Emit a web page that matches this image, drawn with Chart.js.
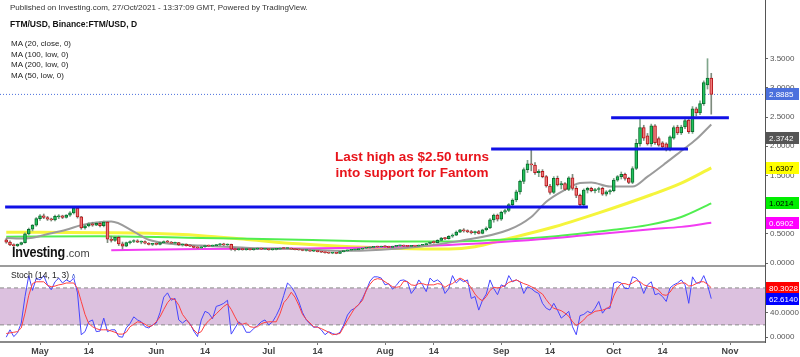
<!DOCTYPE html>
<html>
<head>
<meta charset="utf-8">
<title>FTM/USD</title>
<script src="https://cdn.jsdelivr.net/npm/chart.js@4.4.1/dist/chart.umd.min.js"></script>
<style>
  html, body { margin:0; padding:0; background:#ffffff; }
  body { width:800px; height:357px; overflow:hidden; position:relative; font-family:"Liberation Sans", Arial, sans-serif; }
  canvas { position:absolute; left:0; }
  #c1 { top:0; }
  #c2 { top:266px; }
  .txt { position:absolute; white-space:nowrap; line-height:1; }
</style>
</head>
<body>
<canvas id="c1" width="800" height="266"></canvas>
<canvas id="c2" width="800" height="91"></canvas>
<div style="position:absolute;left:0;top:265px;width:765px;height:2px;background:#9c9c9c;"></div>
<div class="txt" style="left:10px;top:4px;font-size:8px;color:#333;">Published on Investing.com, 27/Oct/2021 - 13:37:09 GMT, Powered by TradingView.</div>
<div class="txt" style="left:10px;top:20px;font-size:8.5px;font-weight:bold;color:#111;">FTM/USD, Binance:FTM/USD, D</div>
<div class="txt" style="left:11px;top:40px;font-size:8px;color:#222;">MA (20, close, 0)</div>
<div class="txt" style="left:11px;top:51px;font-size:8px;color:#222;">MA (100, low, 0)</div>
<div class="txt" style="left:11px;top:61px;font-size:8px;color:#222;">MA (200, low, 0)</div>
<div class="txt" style="left:11px;top:72px;font-size:8px;color:#222;">MA (50, low, 0)</div>
<div class="txt" style="left:300px;top:149px;width:224px;text-align:center;font-size:13.5px;font-weight:bold;color:#e8141b;line-height:16px;">Last high as $2.50 turns<br>into support for Fantom</div>
<div class="txt" style="left:12px;top:244px;"><span style="display:inline-block;font-size:14px;font-weight:bold;color:#111;transform:scaleX(0.9);transform-origin:left;letter-spacing:-0.3px;">Investing</span><span style="font-size:11px;color:#444;margin-left:-5px;">.com</span></div>
<div class="txt" style="left:11px;top:271px;font-size:8.5px;color:#222;">Stoch (14, 1, 3) <span style="color:#3a55d0;font-size:7px;">&#8743;</span></div>

<script>
// ---------- DATA ----------
// daily candles, 22 Apr 2021 (index 0) .. 27 Oct 2021 (index 188)
const open = [
0.40,0.36,0.31,0.30,0.32,0.35,0.50,0.58,0.65,0.76,
0.81,0.78,0.75,0.74,0.79,0.81,0.78,0.82,0.86,0.94,
0.79,0.60,0.64,0.67,0.65,0.68,0.64,0.70,0.41,0.39,
0.44,0.33,0.29,0.35,0.37,0.38,0.36,0.37,0.34,0.32,
0.33,0.32,0.35,0.37,0.36,0.34,0.35,0.31,0.32,0.30,
0.29,0.27,0.26,0.28,0.30,0.29,0.30,0.31,0.33,0.31,
0.32,0.24,0.23,0.25,0.23,0.24,0.23,0.24,0.25,0.24,
0.245,0.23,0.235,0.24,0.255,0.25,0.255,0.24,0.23,0.225,
0.215,0.22,0.205,0.21,0.195,0.185,0.18,0.17,0.175,0.165,
0.195,0.21,0.22,0.225,0.23,0.24,0.255,0.26,0.27,0.28,
0.275,0.285,0.28,0.27,0.285,0.295,0.30,0.29,0.285,0.295,
0.29,0.305,0.315,0.335,0.36,0.35,0.39,0.43,0.42,0.46,
0.48,0.53,0.57,0.55,0.54,0.52,0.54,0.51,0.57,0.60,
0.74,0.82,0.75,0.87,0.90,1.00,1.08,1.22,1.40,1.60,
1.70,1.68,1.55,1.57,1.48,1.32,1.21,1.45,1.34,1.36,
1.26,1.46,1.28,1.16,1.00,1.25,1.28,1.24,1.26,1.28,
1.18,1.22,1.24,1.42,1.48,1.52,1.45,1.38,1.62,2.04,
2.32,2.18,2.04,2.35,2.13,2.06,2.04,1.94,2.14,2.33,
2.23,2.33,2.45,2.25,2.64,2.57,2.73,3.05,3.17];
const high = [
0.42,0.38,0.33,0.33,0.36,0.52,0.60,0.66,0.78,0.83,
0.84,0.80,0.77,0.82,0.83,0.82,0.83,0.88,0.96,0.95,
0.80,0.66,0.69,0.70,0.70,0.70,0.72,0.71,0.46,0.46,
0.46,0.36,0.36,0.38,0.40,0.40,0.38,0.38,0.35,0.34,
0.35,0.36,0.38,0.39,0.37,0.36,0.355,0.33,0.33,0.32,
0.30,0.28,0.29,0.31,0.31,0.31,0.32,0.34,0.34,0.33,
0.325,0.26,0.26,0.26,0.25,0.25,0.25,0.26,0.26,0.25,
0.25,0.24,0.245,0.26,0.27,0.26,0.26,0.245,0.24,0.23,
0.225,0.225,0.215,0.215,0.20,0.19,0.19,0.18,0.18,0.20,
0.215,0.225,0.23,0.235,0.245,0.26,0.265,0.275,0.285,0.29,
0.29,0.30,0.29,0.29,0.30,0.31,0.31,0.30,0.30,0.30,
0.31,0.32,0.34,0.37,0.38,0.40,0.44,0.44,0.47,0.50,
0.55,0.58,0.59,0.57,0.56,0.55,0.56,0.58,0.62,0.76,
0.84,0.84,0.89,0.92,1.02,1.10,1.25,1.42,1.63,1.76,
1.95,1.72,1.60,1.60,1.50,1.35,1.48,1.49,1.40,1.38,
1.48,1.52,1.32,1.18,1.27,1.30,1.30,1.28,1.30,1.30,
1.24,1.26,1.45,1.50,1.56,1.54,1.47,1.65,2.12,2.49,
2.36,2.22,2.38,2.37,2.16,2.08,2.06,2.18,2.35,2.36,
2.36,2.48,2.47,2.68,2.67,2.78,3.12,3.50,3.25];
const low = [
0.34,0.30,0.28,0.28,0.31,0.34,0.48,0.55,0.63,0.73,
0.76,0.73,0.72,0.72,0.76,0.76,0.77,0.80,0.84,0.77,
0.58,0.58,0.62,0.63,0.64,0.62,0.62,0.35,0.36,0.37,
0.30,0.24,0.28,0.33,0.35,0.35,0.33,0.33,0.31,0.30,
0.31,0.31,0.34,0.35,0.33,0.32,0.30,0.29,0.29,0.28,
0.26,0.25,0.25,0.27,0.28,0.28,0.29,0.30,0.30,0.30,
0.22,0.21,0.22,0.22,0.22,0.22,0.22,0.23,0.23,0.23,
0.22,0.22,0.225,0.235,0.245,0.24,0.235,0.225,0.22,0.21,
0.205,0.20,0.195,0.19,0.18,0.17,0.165,0.16,0.16,0.16,
0.19,0.20,0.21,0.215,0.225,0.235,0.245,0.25,0.26,0.265,
0.27,0.27,0.265,0.265,0.275,0.28,0.28,0.275,0.28,0.28,
0.285,0.30,0.31,0.33,0.34,0.345,0.38,0.40,0.41,0.44,
0.47,0.52,0.53,0.52,0.50,0.49,0.50,0.50,0.55,0.59,
0.70,0.72,0.73,0.84,0.88,0.98,1.05,1.18,1.36,1.55,
1.58,1.52,1.48,1.46,1.30,1.18,1.19,1.32,1.27,1.24,
1.24,1.25,1.12,0.96,0.98,1.20,1.22,1.20,1.21,1.16,
1.15,1.18,1.22,1.40,1.44,1.42,1.36,1.36,1.60,2.00,
2.10,2.02,2.00,2.03,2.00,1.97,1.92,1.92,2.12,2.20,
2.20,2.30,2.22,2.22,2.52,2.54,2.70,2.98,2.55];
const close = [
0.36,0.31,0.30,0.32,0.35,0.50,0.58,0.65,0.76,0.81,
0.78,0.75,0.74,0.80,0.81,0.78,0.82,0.86,0.94,0.79,
0.60,0.64,0.67,0.65,0.68,0.64,0.70,0.41,0.39,0.44,
0.33,0.29,0.35,0.37,0.38,0.36,0.37,0.34,0.32,0.33,
0.32,0.35,0.37,0.36,0.34,0.35,0.31,0.32,0.30,0.29,
0.27,0.26,0.28,0.30,0.29,0.30,0.31,0.33,0.31,0.32,
0.24,0.23,0.25,0.23,0.24,0.23,0.24,0.25,0.24,0.245,
0.23,0.235,0.24,0.255,0.25,0.255,0.24,0.23,0.225,0.215,
0.22,0.205,0.21,0.195,0.185,0.18,0.17,0.175,0.165,0.195,
0.21,0.22,0.225,0.23,0.24,0.255,0.26,0.27,0.28,0.275,
0.285,0.28,0.27,0.285,0.295,0.30,0.29,0.285,0.295,0.29,
0.305,0.315,0.335,0.36,0.35,0.39,0.43,0.42,0.46,0.48,
0.53,0.57,0.55,0.54,0.52,0.54,0.51,0.57,0.60,0.74,
0.82,0.75,0.87,0.90,1.00,1.08,1.22,1.40,1.60,1.70,
1.68,1.55,1.57,1.48,1.32,1.21,1.45,1.34,1.36,1.26,
1.46,1.28,1.16,1.00,1.25,1.28,1.24,1.26,1.27,1.18,
1.22,1.24,1.42,1.48,1.52,1.45,1.38,1.62,2.05,2.32,
2.14,2.04,2.35,2.06,2.02,1.99,1.94,2.16,2.32,2.23,
2.33,2.44,2.25,2.64,2.57,2.73,3.09,3.17,2.8885];

// moving averages read at selected days
const ma20Days  = [0,5,12,16,20,28,34,38,44,52,65,78,89,100,110,121,134,140,144,148,153,156,161,167,171,176,180,184,188];
const ma20Vals  = [0.43,0.42,0.51,0.57,0.65,0.71,0.54,0.40,0.33,0.30,0.26,0.24,0.21,0.23,0.28,0.38,0.57,0.79,1.05,1.22,1.37,1.38,1.31,1.31,1.48,1.72,1.92,2.12,2.3742];
const ma100Days = [0,25,38,52,65,78,92,105,118,125,132,145,158,172,180,188];
const ma100Vals = [0.53,0.52,0.51,0.47,0.40,0.33,0.28,0.25,0.24,0.28,0.39,0.60,0.86,1.17,1.37,1.6307];
const ma200Days = [0,25,52,78,105,118,132,145,162,171,180,188];
const ma200Vals = [0.45,0.46,0.43,0.40,0.37,0.37,0.40,0.45,0.57,0.65,0.79,1.0214];
const ma50Days  = [28,52,78,100,118,132,145,158,172,180,188];
const ma50Vals  = [0.22,0.24,0.25,0.27,0.31,0.36,0.42,0.50,0.58,0.62,0.6902];

// horizontal support / resistance lines
const levelVals  = [0.96, 1.955, 2.49];
const levelStart = [-0.3, 129.3, 161.3];
const levelEnd   = [155.1, 181.8, 192.7];
const lastPrice  = 2.8885;

// stochastic (14,1,3)
const stochK = [
0,12,1,7,23,66,100,76,96,93,
100,85,77,90,96,88,93,90,96,72,
4,9,25,28,9,10,31,9,12,12,
1,0,15,22,33,28,25,17,15,20,
23,40,65,72,60,63,28,23,28,22,
10,1,28,42,39,30,50,52,55,60,
5,15,25,20,8,8,14,19,25,28,
20,25,35,48,68,88,82,72,58,40,
28,22,16,17,12,4,9,6,4,8,
20,36,44,47,53,63,76,91,98,98,
96,85,87,78,84,92,93,90,71,79,
93,85,74,96,90,93,88,71,79,100,
88,94,90,93,63,66,44,60,70,93,
79,69,85,82,100,90,93,90,71,82,
79,74,71,55,47,44,55,44,31,36,
42,17,4,35,37,42,39,47,58,39,
47,47,88,90,88,79,79,98,96,88,
71,85,90,69,71,66,58,80,85,88,
93,85,55,98,88,88,100,85,62.614];
const stochD = [
6,7,8,9,15,39,68,87,90,90,
90,84,82,83,85,86,88,88,88,79,
58,37,22,17,14,12,12,12,10,8,
5,5,8,17,21,25,24,21,17,19,
25,33,45,56,63,61,52,37,29,21,
12,6,9,20,27,32,38,44,50,54,
45,33,22,21,23,17,16,17,22,24,
25,25,25,38,56,63,73,65,52,37,
29,23,17,16,14,11,8,4,5,6,
17,28,38,48,53,60,76,86,93,95,
94,90,86,82,81,82,91,90,85,84,
87,87,85,85,85,87,86,81,85,87,
92,96,93,88,80,70,63,59,66,76,
81,80,81,84,89,91,93,90,87,85,
82,79,74,70,61,53,47,45,43,39,
34,25,19,23,28,35,38,42,43,44,
46,50,67,80,87,87,85,88,92,90,
85,83,82,80,76,69,68,73,82,86,
88,88,83,84,87,90,90,86,80.3028];
const stochBand = [20, 80];

// axis ticks
const xTickDays   = [9,22,40,53,70,83,101,114,132,145,162,175,193];
const xTickLabels = ['May','14','Jun','14','Jul','14','Aug','14','Sep','14','Oct','14','Nov'];
const yTicks      = [0,0.5,1,1.5,2,2.5,3,3.5];
const stochTicks  = [0,40];

// right-axis value tags
const mainTagText = ['2.8885','2.3742','1.6307','1.0214','0.6902'];
const mainTagAt   = [2.8885, 2.14, 1.6307, 1.0214, 0.6902];
const mainTagBg   = ['#4b70dd','#555555','#ffff00','#00ee00','#ff00ff'];
const mainTagFg   = ['#ffffff','#ffffff','#000000','#000000','#ffffff'];
const stochTagText = ['80.3028','62.6140'];
const stochTagAt   = [80.3028, 62.614];
const stochTagBg   = ['#ff0000','#0000ff'];
const stochTagFg   = ['#ffffff','#ffffff'];

// ---------- RENDER ----------
const FONT = '"Liberation Sans", Arial, sans-serif';
const X_MIN = -1.667, X_MAX = 202.33;
const AXIS_W = 35;
const UP = '#22c25c', UP_B = '#0b6e2f', DN = '#f07a7a', DN_B = '#b3161b';

const idx = open.map((_, i) => i);
const isUp = idx.map(i => close[i] >= open[i]);

function pts(xs, ys) { return xs.map((x, i) => ({ x: x, y: ys[i] })); }
function maLine(xs, ys, color, w, order) {
  return { type: 'line', data: pts(xs, ys), borderColor: color, borderWidth: w,
           pointRadius: 0, cubicInterpolationMode: 'monotone', fill: false, order: order };
}

function tagPlugin(texts, at, bgs, fgs) {
  return {
    id: 'tags',
    afterDraw(chart) {
      const ctx = chart.ctx, s = chart.scales.y, x0 = chart.chartArea.right + 1;
      ctx.save();
      ctx.font = '8px ' + FONT;
      ctx.textBaseline = 'middle';
      texts.forEach((t, i) => {
        const y = Math.round(s.getPixelForValue(at[i]));
        ctx.fillStyle = bgs[i];
        ctx.fillRect(x0, y - 6, 33, 12);
        ctx.fillStyle = fgs[i];
        ctx.fillText(t, x0 + 3, y + 0.5);
      });
      ctx.restore();
    }
  };
}

const levelSets = levelVals.map((v, i) => ({
  type: 'line', data: [{ x: levelStart[i], y: v }, { x: levelEnd[i], y: v }],
  borderColor: '#1010e6', borderWidth: 3, pointRadius: 0, fill: false, order: 0
}));

new Chart(document.getElementById('c1'), {
  type: 'bar',
  data: {
    datasets: [
      ...levelSets,
      { type: 'bar', data: idx.map(i => ({ x: i, y: [open[i], close[i]] })),
        backgroundColor: idx.map(i => isUp[i] ? UP : DN),
        borderColor: idx.map(i => isUp[i] ? UP_B : DN_B),
        borderWidth: 1, borderSkipped: false, barThickness: 3, minBarLength: 1,
        grouped: false, order: 1 },
      { type: 'bar', data: idx.map(i => ({ x: i, y: [low[i], high[i]] })),
        backgroundColor: idx.map(i => isUp[i] ? '#7fa58b' : '#7d8a7d'),
        borderWidth: 0, barThickness: 1, grouped: false, order: 2 },
      maLine(ma20Days, ma20Vals, '#9b9b9b', 2, 3),
      maLine(ma50Days, ma50Vals, '#f23cf2', 2, 4),
      maLine(ma200Days, ma200Vals, '#50ee50', 2, 5),
      maLine(ma100Days, ma100Vals, '#f5f53c', 3, 6),
      { type: 'line', data: [{ x: X_MIN, y: lastPrice }, { x: X_MAX, y: lastPrice }],
        borderColor: '#4b70dd', borderWidth: 1, borderDash: [1, 2], pointRadius: 0, fill: false, order: 7 }
    ]
  },
  options: {
    responsive: false, animation: false, devicePixelRatio: 1,
    layout: { padding: 0 },
    plugins: { legend: { display: false }, tooltip: { enabled: false } },
    scales: {
      x: { type: 'linear', min: X_MIN, max: X_MAX, display: false, offset: false },
      y: {
        position: 'right', min: -0.05, max: 4.505,
        afterBuildTicks: s => { s.ticks = yTicks.map(v => ({ value: v })); },
        afterFit: s => { s.width = AXIS_W; s.paddingTop = 0; s.paddingBottom = 0; },
        grid: { drawOnChartArea: false, drawTicks: true, tickLength: 3, color: '#666' },
        border: { display: true, color: '#555', width: 1 },
        ticks: { font: { size: 8, family: FONT }, color: '#555', padding: 2,
                 callback: v => Number(v).toFixed(4) }
      }
    }
  },
  plugins: [tagPlugin(mainTagText, mainTagAt, mainTagBg, mainTagFg)]
});

new Chart(document.getElementById('c2'), {
  type: 'line',
  data: {
    datasets: [
      { data: pts(idx, stochD), borderColor: '#ff4040', borderWidth: 1, pointRadius: 0, fill: false, order: 0 },
      { data: pts(idx, stochK), borderColor: '#4646ff', borderWidth: 1, pointRadius: 0, fill: false, order: 1 },
      { data: [{ x: X_MIN, y: stochBand[1] }, { x: X_MAX, y: stochBand[1] }], borderColor: '#8a8a8a',
        borderWidth: 1, borderDash: [4, 3], pointRadius: 0, fill: false, order: 2 },
      { data: [{ x: X_MIN, y: stochBand[0] }, { x: X_MAX, y: stochBand[0] }], borderColor: '#8a8a8a',
        borderWidth: 1, borderDash: [4, 3], pointRadius: 0, fill: '-1', backgroundColor: '#dcc1df', order: 3 }
    ]
  },
  options: {
    responsive: false, animation: false, devicePixelRatio: 1,
    layout: { padding: 0 },
    plugins: { legend: { display: false }, tooltip: { enabled: false } },
    scales: {
      x: {
        type: 'linear', min: X_MIN, max: X_MAX, offset: false,
        afterBuildTicks: s => { s.ticks = xTickDays.map(v => ({ value: v })); },
        afterFit: s => { s.height = 15; s.paddingLeft = 0; s.paddingRight = 0; },
        grid: { drawOnChartArea: false, drawTicks: true, tickLength: 3, color: '#777' },
        border: { display: true, color: '#8a8a8a', width: 2 },
        ticks: { font: { size: 9, family: FONT, weight: 'bold' }, color: '#444', padding: 1,
                 maxRotation: 0, autoSkip: false, callback: (v, i) => xTickLabels[i] }
      },
      y: {
        position: 'right', min: -7.8, max: 115.6,
        afterBuildTicks: s => { s.ticks = stochTicks.map(v => ({ value: v })); },
        afterFit: s => { s.width = AXIS_W; s.paddingTop = 0; s.paddingBottom = 0; },
        grid: { drawOnChartArea: false, drawTicks: true, tickLength: 3, color: '#666' },
        border: { display: true, color: '#555', width: 1 },
        ticks: { font: { size: 8, family: FONT }, color: '#555', padding: 2,
                 callback: v => Number(v).toFixed(4) }
      }
    }
  },
  plugins: [tagPlugin(stochTagText, stochTagAt, stochTagBg, stochTagFg)]
});
</script>
</body>
</html>
